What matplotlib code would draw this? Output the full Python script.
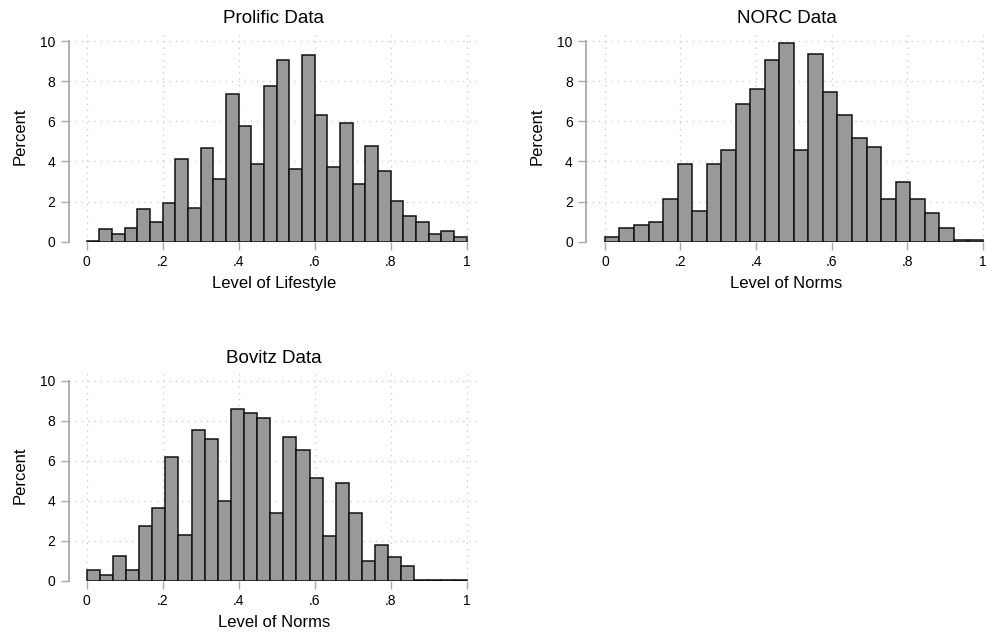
import numpy as np
import matplotlib
matplotlib.use('Agg')
import matplotlib.pyplot as plt

plt.rcParams['font.family'] = ['Liberation Sans', 'DejaVu Sans']

# percent per bin (equal-width bins from 0 to 1)
prolific_pct = [0.05, 0.61, 0.37, 0.70, 1.61, 0.96, 1.94, 4.10, 1.69, 4.68,
                3.11, 7.34, 5.75, 3.85, 7.74, 9.05, 3.60, 9.32, 6.33, 3.70,
                5.91, 2.86, 4.75, 3.52, 2.03, 1.28, 0.96, 0.37, 0.53, 0.22]
norc_pct = [0.25, 0.66, 0.81, 0.96, 2.11, 3.85, 1.54, 3.85, 4.57, 6.88,
            7.59, 9.04, 9.88, 4.57, 9.34, 7.44, 6.30, 5.15, 4.70, 2.11,
            2.97, 2.11, 1.41, 0.66, 0.08, 0.08]
bovitz_pct = [0.53, 0.28, 1.23, 0.53, 2.73, 3.65, 6.18, 2.28, 7.57, 7.12,
              3.98, 8.62, 8.38, 8.13, 3.42, 7.22, 6.53, 5.15, 2.27, 4.92,
              3.42, 0.98, 1.80, 1.22, 0.75, 0.05, 0.05, 0.05, 0.05]

titles = ['Prolific Data', 'NORC Data', 'Bovitz Data']
xlabels = ['Level of Lifestyle', 'Level of Norms', 'Level of Norms']
xticks = [0, 0.2, 0.4, 0.6, 0.8, 1]
xticklabels = ['0', '.2', '.4', '.6', '.8', '1']
yticks = [0, 2, 4, 6, 8, 10]

W, H = 987, 635
fig = plt.figure(figsize=(W / 100, H / 100), dpi=100)

def pix_axes(l, t, r, b):
    return fig.add_axes([l / W, 1 - b / H, (r - l) / W, (b - t) / H])

def hist_panel(ax, pct, title, xlabel, xlim):
    n = len(pct)
    edges = np.linspace(0, 1, n + 1)
    ax.set_axisbelow(True)
    ax.bar(edges[:-1], pct, width=1.0 / n, align='edge', color='#999999',
           edgecolor='#111111', linewidth=1.1)
    ax.set_xlim(*xlim)
    ax.set_ylim(0, 10.55)
    ax.set_xticks(xticks)
    ax.set_xticklabels(xticklabels)
    ax.set_yticks(yticks)
    ax.grid(True, color='#c8c8c8', linestyle=(0, (1, 4)), linewidth=0.9)
    for s in ['top', 'right', 'bottom']:
        ax.spines[s].set_visible(False)
    ax.spines['left'].set_bounds(0, 10)
    ax.spines['left'].set_color('#aaaaaa')
    ax.spines['left'].set_linewidth(1.3)
    ax.tick_params(axis='both', colors='#aaaaaa', labelcolor='black',
                   length=5.5, width=1.0, labelsize=10, pad=4)
    ax.set_title(title, fontsize=13.5, pad=5)
    ax.set_xlabel(xlabel, fontsize=12, labelpad=5)
    ax.set_ylabel('Percent', fontsize=12, labelpad=9)

ax1 = pix_axes(68.5, 30, 479, 241.7)
hist_panel(ax1, prolific_pct, titles[0], xlabels[0], (-0.048, 1.032))

ax2 = pix_axes(586, 30, 987, 241.7)
hist_panel(ax2, norc_pct, titles[1], xlabels[1], (-0.050, 1.011))

ax3 = pix_axes(68.5, 370, 479, 581)
hist_panel(ax3, bovitz_pct, titles[2], xlabels[2], (-0.048, 1.032))

fig.savefig('out.png', dpi=100, facecolor='white')
